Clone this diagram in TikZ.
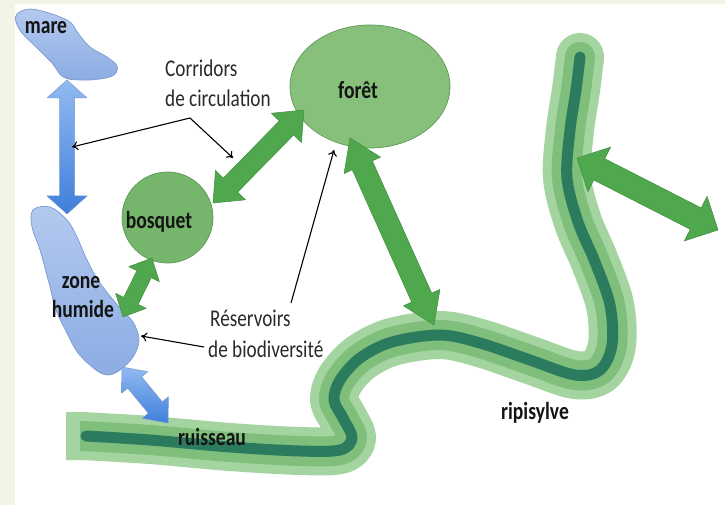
\documentclass[tikz,border=0pt]{standalone}
\usepackage{fontspec}
\setmainfont{Carlito}
\usetikzlibrary{arrows.meta,calc,shapes.geometric}
\definecolor{cream}{HTML}{F2F4E6}
\definecolor{pale}{HTML}{A4D4A0}
\definecolor{midg}{HTML}{7FBE7B}
\definecolor{darkg}{HTML}{2B7B5F}
\definecolor{garrow}{HTML}{4FA84D}
\definecolor{gedge}{HTML}{3F8E3E}
\definecolor{bosqf}{HTML}{76B66C}
\definecolor{foretf}{HTML}{86C07B}
\definecolor{elledge}{HTML}{5D9956}
\definecolor{blobtop}{HTML}{B3C9EF}
\definecolor{blobbot}{HTML}{8CACE3}
\definecolor{blobedge}{HTML}{7C9AD0}
\definecolor{bartop}{HTML}{92BAF2}
\definecolor{barbot}{HTML}{3F7FDA}
\definecolor{txt}{HTML}{141414}
\definecolor{txtreg}{HTML}{2A2A2A}
\newcommand\sq[1]{\scalebox{0.8}[1]{#1}}
\newcommand\fatarrow[6]{%
  \path[#6] let \p1=(#1), \p2=(#2), \n1={atan2(\y2-\y1,\x2-\x1)}, \n2={veclen(\x2-\x1,\y2-\y1)} in
  [shift={(\p1)}, rotate=\n1]
  (0,0) -- (#5,#4) -- (#5,#3) -- ({\n2-#5},#3) -- ({\n2-#5},#4) -- (\n2,0)
  -- ({\n2-#5},-#4) -- ({\n2-#5},-#3) -- (#5,-#3) -- (#5,-#4) -- cycle;}
\begin{document}
\begin{tikzpicture}[x=1pt,y=-1pt,
  lbl/.style={text=txt, font=\fontsize{24.5}{28}\selectfont\bfseries, inner sep=0pt},
  reg/.style={text=txtreg, font=\fontsize{24}{28}\selectfont, inner sep=0pt},
  garr/.style={fill=garrow, draw=gedge, line width=0.5pt, line join=round},
  barr/.style={top color=bartop, bottom color=barbot, draw=blobedge, line width=0.5pt, line join=round},
  blob/.style={top color=blobtop, bottom color=blobbot, draw=blobedge, line width=0.7pt},
  pointer/.style={draw=black, line width=1.1pt, -{To[length=6pt,width=9pt]}}]
\useasboundingbox (0,0) rectangle (725,505);
\fill[cream] (0,0) rectangle (725,505);
\fill[white] (15,4) rectangle (725,505);

% stream (ruisseau + ripisylve)
\draw[pale, line width=48pt, line cap=butt, line join=round]
  (66,436) -- plot[smooth, tension=0.55] coordinates {(82,436) (150,440) (230,447) (300,451) (340,450) (352,438) (343,418) (334,400) (340,380) (360,358) (392,342) (440,335) (480,343) (530,360) (575,375) (600,370) (612,345) (610,305) (595,262) (578,222) (567,178) (570,130) (576,90) (580,57)};
\fill[pale] (580,57) circle (24);
\draw[midg, line width=30pt, line cap=round, line join=round]
  plot[smooth, tension=0.55] coordinates {(82,436) (150,440) (230,447) (300,451) (340,450) (352,438) (343,418) (334,400) (340,380) (360,358) (392,342) (440,335) (480,343) (530,360) (575,375) (600,370) (612,345) (610,305) (595,262) (578,222) (567,178) (570,130) (576,90) (580,57)};
\fill[pale] (66,412) rectangle (80,460);
\draw[darkg, line width=11pt, line cap=round, line join=round]
  plot[smooth, tension=0.55] coordinates {(86,436) (150,440) (230,447) (300,451) (340,450) (352,438) (343,418) (334,400) (340,380) (360,358) (392,342) (440,335) (480,343) (530,360) (575,375) (600,370) (612,345) (610,305) (595,262) (578,222) (567,178) (570,130) (576,90) (580,57)};

% blobs
\draw[blob] plot[smooth cycle, tension=0.6] coordinates {(17,14) (30,9) (52,14) (70,22) (78,33) (90,47) (107,57) (117,66) (114,75) (100,79) (80,80) (63,77) (52,63) (36,47) (22,33) (16,22)};
\draw[blob] plot[smooth cycle, tension=0.6] coordinates {(33,210) (50,207) (67,220) (77,237) (87,260) (100,283) (120,308) (133,322) (139,340) (133,357) (120,370) (108,375) (96,370) (78,353) (67,333) (56,310) (49,283) (40,250) (32,227)};

% ellipses
\node[circle, fill=bosqf, draw=elledge, line width=0.7pt, minimum size=91pt, inner sep=0pt] (bosq) at (167.5,217.5) {};
\node[ellipse, fill=foretf, draw=elledge, line width=0.7pt, minimum width=160pt, minimum height=123pt, inner sep=0pt] (foret) at (370,86.5) {};

% arrow end points
\coordinate (m1) at (67,80);  \coordinate (m2) at (67,214);
\coordinate (z1) at (123,317); \coordinate (z2) at (152,258);
\coordinate (r1) at (122,367); \coordinate (r2) at (168,423);
\coordinate (b1) at (213,203); \coordinate (b2) at (304,110);
\coordinate (f1) at (350,138); \coordinate (f2) at (434,325);
\coordinate (p1) at (577,158); \coordinate (p2) at (718,230);

\fatarrow{m1}{m2}{7.5}{20}{18}{barr}
\fatarrow{r1}{r2}{9}{17}{20}{barr}
\fatarrow{z1}{z2}{8}{17}{18}{garr}
\fatarrow{b1}{b2}{10}{21}{25}{garr}
\fatarrow{f1}{f2}{11}{20}{30}{garr}
\fatarrow{p1}{p2}{12}{25}{25}{garr}

% labels
\node[lbl, anchor=base] (lmare) at (46,34) {\sq{mare}};
\node[lbl, anchor=base] (lbosq) at (159,228) {\sq{bosquet}};
\node[lbl, anchor=base] (lzone) at (81,288) {\sq{zone}};
\node[lbl, anchor=base] (lhum) at (83,317) {\sq{humide}};
\node[lbl, anchor=base] (lforet) at (358,99) {\sq{forêt}};
\node[lbl, anchor=base] (lripi) at (535,419) {\sq{ripisylve}};
\node[lbl, anchor=base] (lruis) at (212,445) {\sq{ruisseau}};
\node[reg, anchor=base west] (cor1) at (165,77) {\sq{Corridors}};
\node[reg, anchor=base west] (cor2) at (165,107) {\sq{de circulation}};
\node[reg, anchor=base west] (res1) at (210,326) {\sq{Réservoirs}};
\node[reg, anchor=base west] (res2) at (208,357) {\sq{de biodiversité}};

% pointers
\coordinate (cj) at (190,118);
\coordinate (cl) at (72,147);
\coordinate (cr) at (233,158);
\draw[pointer] (cj) -- (cl);
\draw[pointer] (cj) -- (cr);
\coordinate (rs) at (291,303);
\coordinate (rf) at (334,150);
\coordinate (rz) at (204,347);
\coordinate (rh) at (141,336);
\draw[pointer] (rs) -- (rf);
\draw[pointer] (rz) -- (rh);
\end{tikzpicture}
\end{document}
